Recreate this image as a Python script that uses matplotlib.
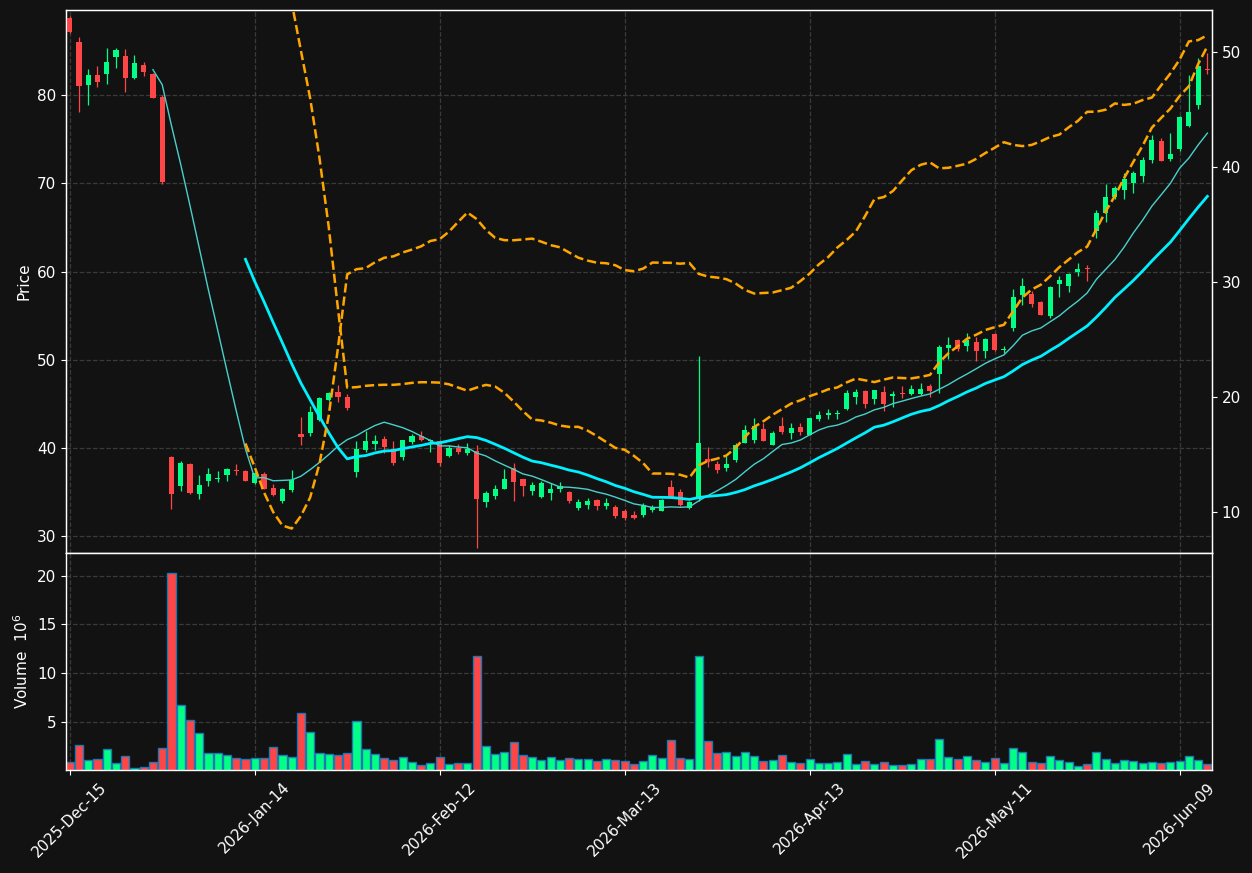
import matplotlib
matplotlib.use('Agg')
import matplotlib.pyplot as plt
import numpy as np
import pandas as pd

# trading days (NYSE holidays in the window are skipped)
holidays = ['2025-12-25', '2026-01-01', '2026-01-19', '2026-02-16', '2026-04-03', '2026-05-25']
dates = pd.bdate_range('2025-12-15', periods=124, freq='C', holidays=holidays)

opens = [88.79, 86.04, 81.20, 82.31, 82.47, 84.39, 84.47, 82.01, 83.43, 82.43,
         79.83, 39.00, 35.71, 38.20, 34.79, 36.29, 36.47, 36.93, 37.51, 37.40,
         36.05, 37.03, 35.48, 33.97, 35.22, 41.57, 41.65, 43.16, 45.43, 46.34,
         45.74, 37.30, 39.76, 40.47, 41.00, 39.90, 38.96, 40.70, 41.38, 40.74,
         40.81, 39.11, 39.98, 39.45, 39.64, 33.90, 34.54, 35.37, 37.71, 36.43,
         35.10, 34.42, 34.91, 35.30, 34.99, 33.18, 33.52, 34.08, 33.40, 33.29,
         32.84, 32.40, 32.42, 32.95, 32.87, 35.56, 34.99, 33.14, 34.16, 38.70,
         38.17, 37.71, 38.62, 40.59, 40.89, 42.14, 40.36, 42.48, 41.72, 42.33,
         41.50, 43.31, 43.76, 43.80, 44.41, 45.77, 46.45, 45.54, 46.34, 45.92,
         46.26, 46.11, 46.11, 47.02, 48.41, 51.37, 52.24, 51.56, 52.01, 50.99,
         52.92, 51.10, 53.64, 57.34, 57.46, 56.55, 54.96, 58.59, 58.40, 59.99,
         60.40, 64.60, 66.68, 68.50, 69.29, 70.02, 70.88, 72.69, 74.81, 72.77,
         73.93, 76.52, 78.90, 83.02]
highs = [88.95, 86.61, 82.93, 83.36, 85.35, 85.39, 85.20, 84.54, 83.73, 82.55,
         80.00, 39.10, 38.54, 38.25, 36.90, 37.70, 37.43, 37.74, 38.20, 37.45,
         37.30, 37.26, 35.90, 35.41, 37.49, 43.47, 44.79, 45.72, 46.30, 47.10,
         46.08, 40.78, 41.95, 41.42, 41.35, 40.74, 40.89, 41.57, 41.91, 40.97,
         40.85, 40.36, 40.40, 40.51, 40.32, 35.10, 35.75, 37.57, 38.25, 36.50,
         36.13, 36.27, 35.98, 36.09, 35.10, 34.16, 34.28, 34.23, 34.28, 33.48,
         33.06, 32.80, 33.71, 33.55, 34.23, 36.32, 35.33, 34.00, 50.42, 40.10,
         38.47, 39.04, 40.59, 42.55, 43.35, 42.86, 41.88, 43.47, 42.79, 42.79,
         43.42, 44.15, 44.37, 44.26, 46.53, 46.64, 46.53, 46.60, 47.02, 46.42,
         47.02, 47.10, 47.32, 47.21, 51.67, 52.54, 52.30, 53.00, 52.54, 52.46,
         52.98, 51.52, 57.99, 59.24, 57.80, 56.70, 58.40, 59.53, 59.80, 60.94,
         60.75, 66.99, 69.90, 69.71, 71.15, 71.45, 73.00, 75.50, 75.12, 75.69,
         77.61, 82.35, 84.20, 84.76]
lows = [87.05, 78.06, 78.95, 81.00, 81.25, 83.09, 80.33, 81.90, 82.16, 79.64,
        69.90, 33.03, 35.06, 34.82, 34.25, 35.64, 36.09, 36.20, 36.93, 36.20,
        35.90, 35.30, 34.54, 33.78, 34.96, 40.32, 41.38, 43.10, 45.33, 45.24,
        44.33, 36.73, 39.57, 39.72, 39.42, 38.09, 38.66, 40.44, 40.81, 39.57,
        37.98, 38.96, 39.34, 39.16, 28.60, 33.26, 34.16, 35.30, 33.94, 34.50,
        34.62, 34.35, 34.05, 34.96, 33.78, 32.98, 33.10, 32.95, 33.03, 32.00,
        31.82, 31.93, 32.19, 32.69, 32.80, 34.31, 33.40, 33.03, 34.00, 37.86,
        37.11, 37.41, 38.43, 40.52, 40.52, 40.74, 40.29, 41.61, 41.00, 41.46,
        41.42, 43.08, 43.24, 43.24, 44.33, 45.01, 44.49, 45.01, 44.22, 44.60,
        45.69, 45.96, 46.03, 45.77, 46.19, 50.12, 50.99, 50.96, 49.82, 50.23,
        51.03, 50.76, 53.26, 56.17, 56.02, 55.04, 54.70, 57.08, 57.72, 59.53,
        58.97, 63.84, 65.59, 68.20, 68.20, 68.88, 70.13, 72.28, 72.55, 72.58,
        73.65, 76.44, 78.48, 82.38]
closes = [87.18, 81.09, 82.31, 81.56, 83.78, 85.15, 82.01, 83.66, 82.59, 79.75,
          70.16, 34.79, 38.32, 34.90, 35.82, 37.05, 36.59, 37.55, 37.32, 36.29,
          37.11, 35.37, 34.65, 35.33, 36.35, 41.27, 44.07, 45.66, 46.22, 45.80,
          44.56, 39.84, 40.78, 40.81, 40.10, 38.28, 40.86, 41.35, 40.93, 40.86,
          38.32, 39.95, 39.53, 39.87, 34.23, 34.88, 35.33, 36.47, 36.16, 35.71,
          35.79, 36.01, 35.33, 35.67, 33.97, 33.86, 33.97, 33.40, 33.78, 32.30,
          32.08, 32.08, 33.55, 33.33, 34.05, 34.46, 33.55, 33.86, 40.52, 38.43,
          37.49, 38.17, 40.32, 42.06, 42.48, 40.81, 41.69, 41.80, 42.25, 41.83,
          43.35, 43.69, 43.96, 43.96, 46.19, 46.34, 45.01, 46.56, 45.01, 46.14,
          46.14, 46.68, 46.68, 46.45, 51.44, 51.67, 51.25, 52.24, 51.03, 52.35,
          51.10, 51.22, 57.12, 58.36, 56.32, 55.07, 58.25, 59.04, 59.73, 60.33,
          60.26, 66.68, 68.46, 69.48, 70.50, 71.18, 72.66, 74.96, 72.58, 73.34,
          77.53, 78.10, 83.32, 82.90]
# volume in millions
volumes = [0.90, 2.65, 1.10, 1.20, 2.24, 0.80, 1.48, 0.25, 0.39, 0.90,
           2.30, 20.28, 6.75, 5.17, 3.87, 1.82, 1.82, 1.62, 1.31, 1.21,
           1.31, 1.31, 2.44, 1.62, 1.41, 5.93, 3.98, 1.82, 1.72, 1.62,
           1.82, 5.07, 2.20, 1.68, 1.27, 1.07, 1.38, 0.86, 0.55, 0.76,
           1.38, 0.66, 0.76, 0.76, 11.73, 2.50, 1.68, 1.89, 2.91, 1.58,
           1.38, 1.07, 1.38, 1.07, 1.27, 1.17, 1.17, 0.96, 1.17, 1.07,
           0.96, 0.66, 0.96, 1.58, 1.27, 3.12, 1.27, 1.17, 11.73, 3.02,
           1.82, 1.89, 1.48, 1.89, 1.48, 0.96, 1.07, 1.58, 0.86, 0.76,
           1.17, 0.76, 0.76, 0.86, 1.68, 0.66, 0.96, 0.66, 0.86, 0.55,
           0.55, 0.66, 1.21, 1.21, 3.26, 1.38, 1.17, 1.48, 1.07, 0.86,
           1.27, 0.76, 2.30, 1.89, 0.86, 0.76, 1.48, 1.07, 0.86, 0.45,
           0.66, 1.89, 1.17, 0.76, 1.07, 0.96, 0.76, 0.86, 0.76, 0.86,
           0.96, 1.48, 1.07, 0.66]

df = pd.DataFrame({'Open': opens, 'High': highs, 'Low': lows,
                   'Close': closes, 'Volume': volumes}, index=dates)

# moving averages and bollinger bands (20, 2 sigma)
ma10 = df['Close'].rolling(10).mean()
ma20 = df['Close'].rolling(20).mean()
sd20 = df['Close'].rolling(20).std(ddof=0)
bb_upper = ma20 + 2 * sd20
bb_lower = ma20 - 2 * sd20

BG = '#121212'
UP = '#00ff84'
DOWN = '#ff4646'
GRID = '#3a3a3a'
FS = 11

x = np.arange(len(df))
up = df['Close'] >= df['Open']
colors = np.where(up, UP, DOWN)

fig = plt.figure(figsize=(12.52, 8.73), dpi=100, facecolor=BG)
W, H = 1252.0, 873.0
ax = fig.add_axes([66 / W, 1 - 553 / H, 1146 / W, 543 / H])
axv = fig.add_axes([66 / W, 1 - 770 / H, 1146 / W, 217 / H], sharex=ax)

for a in (ax, axv):
    a.set_facecolor(BG)
    a.grid(True, color=GRID, linestyle='--', linewidth=0.9)
    a.set_axisbelow(True)
    for s in a.spines.values():
        s.set_color('white')
        s.set_linewidth(1.0)
    a.tick_params(colors='white', labelsize=FS)

# candles
ax.vlines(x, df['Low'], df['High'], colors=colors, linewidth=0.9, zorder=2)
body = (df['Close'] - df['Open']).values
body = np.where(np.abs(body) < 0.05, 0.05, body)
ax.bar(x, body, bottom=df['Open'], width=0.56, color=colors, linewidth=0, zorder=3)

ax.plot(x, ma10, color='#48d1cc', linewidth=1.0, zorder=4)
ax.plot(x, ma20, color='#00f0ff', linewidth=2.0, zorder=4)
ax.plot(x, bb_upper, color='#ffa500', linestyle='--', linewidth=1.8, zorder=4)

ax.set_xlim(-0.4, 123.5)
ax.set_ylim(28.07, 89.68)
ax.set_ylabel('Price', color='white', fontsize=FS)
ax.tick_params(axis='x', bottom=False, labelbottom=False)

# lower band sits on its own scale (right axis)
axr = ax.twinx()
axr.plot(x, bb_lower, color='#ffa500', linestyle='--', linewidth=1.8)
axr.set_ylim(6.4, 53.7)
axr.set_yticks([10, 20, 30, 40, 50])
axr.tick_params(colors='white', labelsize=FS)
for s in axr.spines.values():
    s.set_color('white')

# volume panel
axv.bar(x, df['Volume'], width=0.88, color=colors, edgecolor='#1f77b4', linewidth=1.0)
axv.set_ylim(0.3 * min(volumes), 1.1 * max(volumes))
axv.set_yticks([5, 10, 15, 20])
axv.set_ylabel('Volume  $10^6$', color='white', fontsize=FS)

ticks = list(range(0, len(df), 20))
axv.set_xticks(ticks)
axv.set_xticklabels([dates[i].strftime('%Y-%b-%d') for i in ticks], rotation=45)
axv.tick_params(axis='x', colors='white', labelsize=FS)

fig.savefig('out.png', dpi=100, facecolor=BG)
